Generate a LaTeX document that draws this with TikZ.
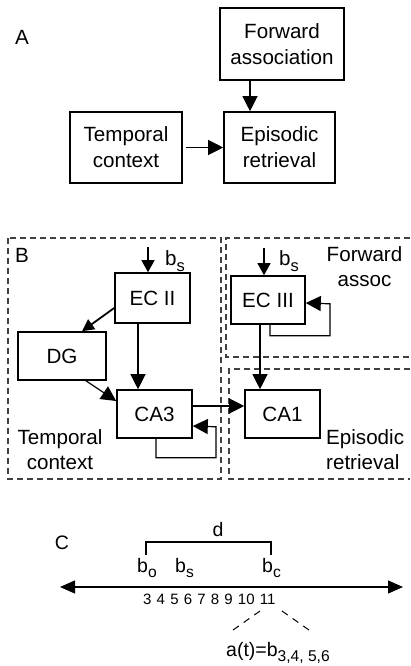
\documentclass[tikz,border=0pt]{standalone}
\usepackage{fontspec}
\setmainfont{Liberation Sans}
\usetikzlibrary{arrows.meta}

\newcommand{\lowsub}[1]{\raisebox{-0.3em}{\scalebox{0.8}{#1}}}

\begin{document}
\begin{tikzpicture}
  [x=1pt, y=-1pt]
  \tikzstyle{box} = [draw=black, line width=1.6pt, inner sep=0pt, align=center, font=\fontsize{20.6}{26}\selectfont];
  \tikzstyle{txt} = [inner sep=0pt, align=center, font=\fontsize{20.6}{25.5}\selectfont];
  \tikzstyle{txt_c} = [inner sep=0pt, font=\fontsize{19.5}{23}\selectfont];
  \tikzstyle{arr} = [line width=1.2pt, -{Triangle[length=15pt, width=15pt]}];
  \tikzstyle{dash_box} = [draw=black!75, line width=1.3pt, dash pattern=on 6pt off 4pt];
  \tikzstyle{dash_line} = [line width=1pt, dash pattern=on 7pt off 6pt];

  \useasboundingbox (0,0) rectangle (410,666);

  % A
  \node[txt] (lblA) at (22,37) {A};

  \node[box, minimum width=124pt, minimum height=72pt] (fwd)  at (282,44)    {Forward\\association};
  \node[box, minimum width=112pt, minimum height=71pt] (temp) at (126,147.5) {Temporal\\context};
  \node[box, minimum width=111pt, minimum height=71pt] (epi)  at (279.5,147.5) {Episodic\\retrieval};

  \draw[arr] ([xshift=-32pt]fwd.south) -- ([xshift=-32pt]fwd.south |- epi.north);
  \draw[arr, shorten <=3pt] (temp.east) -- (epi.west);

  % B
  \draw[dash_box] (8,238) rectangle (221,479);
  \draw[dash_box] (410,238) -- (226,238) -- (226,357) -- (410,357);
  \draw[dash_box] (410,369) -- (229,369) -- (229,479) -- (410,479);

  \node[txt] (lblB) at (22,255) {B};
  \node[txt] (tc) at (60,449.5) {Temporal\\context};
  \node[txt] (fa) at (364.5,266.5) {Forward\\assoc};
  \node[txt, align=left, anchor=west] (er) at (326,449.5) {Episodic\\retrieval};

  \node[box, minimum width=75pt, minimum height=50pt] (ec2) at (152.5,298) {EC II};
  \node[box, minimum width=88pt, minimum height=48pt] (dg)  at (62,356)    {DG};
  \node[box, minimum width=75pt, minimum height=48pt] (ca3) at (154.5,414) {CA3};
  \node[box, minimum width=74pt, minimum height=48pt] (ec3) at (268,300)   {EC III};
  \node[box, minimum width=75pt, minimum height=48pt] (ca1) at (282.5,414) {CA1};

  \coordinate (ec2in) at (148,247);
  \coordinate (ec3in) at (264,248);
  \node[txt, anchor=base west] (bs2) at (165,265) {b\lowsub{s}};
  \node[txt, anchor=base west] (bs3) at (279,265) {b\lowsub{s}};

  \draw[arr, -{Triangle[length=12pt, width=13pt]}] (ec2in) -- (ec2in |- ec2.north);
  \draw[arr, line width=1.8pt, -{Triangle[length=12pt, width=12pt]}] ([yshift=-10pt]ec2.west) -- ([xshift=20pt]dg.north);
  \draw[arr] ([xshift=-14.5pt]ec2.south) -- ([xshift=-14.5pt]ec2.south |- ca3.north);
  \draw[arr] ([xshift=24pt]dg.south) -- ([yshift=13pt]ca3.west);
  \draw[arr] ([xshift=1.5pt]ca3.south) -- ++(0,19) -- ++(60,0) -- ++(0,-31) -- ([yshift=-12pt]ca3.east);
  \draw[arr] ([yshift=8pt]ca3.east) -- ([yshift=8pt]ca3.east -| ca1.west);

  \draw[arr, -{Triangle[length=12pt, width=13pt]}] (ec3in) -- (ec3in |- ec3.north);
  \draw[arr] ([xshift=2pt]ec3.south) -- ++(0,11) -- ++(60,0) -- ++(0,-32) -- ([yshift=-3pt]ec3.east);
  \draw[arr] ([xshift=-8pt]ec3.south) -- ([xshift=-8pt]ec3.south |- ca1.north);

  % C
  \node[txt_c] (lblC) at (62,543) {C};

  \coordinate (axl) at (60,587);
  \coordinate (axr) at (403,587);
  \draw[line width=1.2pt, {Triangle[length=15pt, width=13pt]}-{Triangle[length=15pt, width=13pt]}] (axl) -- (axr);

  \node[txt_c, anchor=base west] (bo) at (137,572) {b\lowsub{o}};
  \node[txt_c, anchor=base west] (bs) at (175,572) {b\lowsub{s}};
  \node[txt_c, anchor=base west] (bc) at (262,572) {b\lowsub{c}};
  \node[txt_c, anchor=base] (d) at (218,536) {d};
  \draw[line width=1.1pt] (146,555) -- (146,542) -- (271,542) -- (271,555);

  \node[anchor=base west, inner sep=0pt, font={\fontsize{15}{15}\selectfont\spaceskip=5.2pt\relax}] (nums) at (143,604) {3 4 5 6 7 8 9 10 11};

  \draw[dash_line] (260,611) -- (233,630);
  \draw[dash_line] (282,611) -- (309,630);
  \node[txt_c, anchor=base west] (at) at (226,656) {a(t)=b\lowsub{3,4, 5,6}};

\end{tikzpicture}
\end{document}
